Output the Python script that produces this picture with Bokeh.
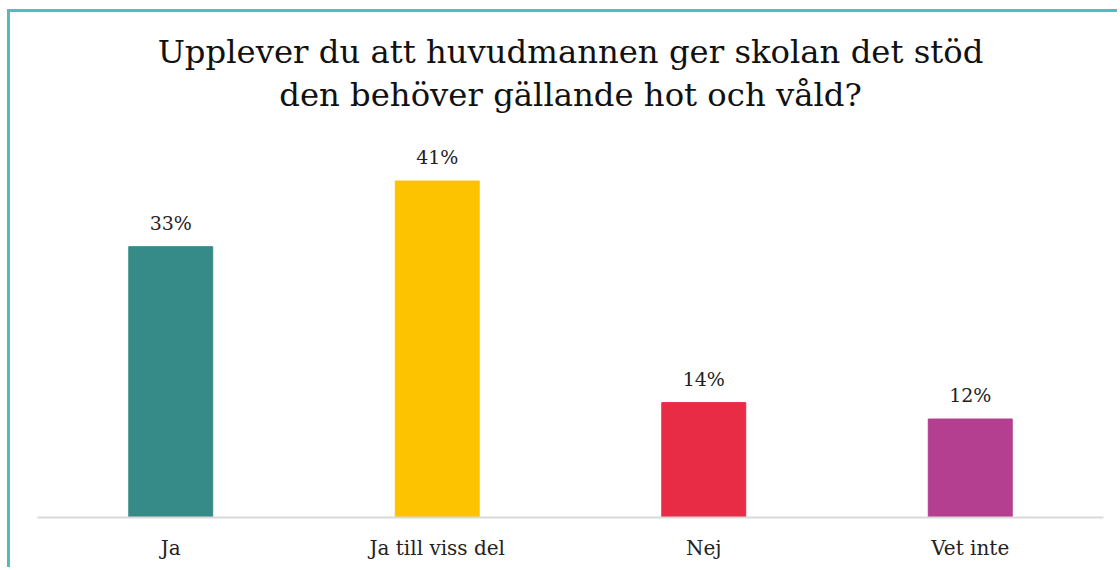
from bokeh.plotting import figure
from bokeh.models import ColumnDataSource, Range1d, Title
from bokeh.core.properties import value
from bokeh.embed import file_html
from bokeh.resources import INLINE

categories = ["Ja", "Ja till viss del", "Nej", "Vet inte"]
values = [33, 41, 14, 12]
labels = ["33%", "41%", "14%", "12%"]
colors = ["#368b89", "#fdc300", "#e92c46", "#b43e8f"]
title_lines = ["Upplever du att huvudmannen ger skolan det stöd",
               "den behöver gällande hot och våld?"]

FONT = "DejaVu Serif"

source = ColumnDataSource(dict(cat=categories, val=values, lab=labels, col=colors))

p = figure(
    x_range=categories,
    y_range=Range1d(0, 47.4),
    width=1110,
    height=558,
    output_backend="svg",
    toolbar_location=None,
    min_border_left=27,
    min_border_right=17,
    min_border_bottom=53,
    min_border_top=0,
    title=title_lines[0],
)
p.styles = {"margin-left": "7px", "margin-top": "9px",
            "border-left": "3px solid #4dbdbd", "border-top": "3px solid #4dbdbd"}
p.x_range.range_padding = 0

t1 = p.title
t1.align = "center"
t1.text_font = FONT
t1.text_font_size = "32.3px"
t1.text_font_style = "normal"
t1.text_color = "#111111"
t1.standoff = -24
t1.offset = 0
t1.padding = dict(left=0, right=0, top=30, bottom=0)

t2 = Title(text=title_lines[1], align="center", text_font=FONT,
           text_font_size="32.3px", text_font_style="normal",
           text_color="#111111", standoff=30)
p.add_layout(t2, "above")

p.vbar(x="cat", top="val", width=0.315, color="col", source=source)
p.text(x="cat", y="val", text="lab", source=source, text_align="center",
       text_baseline="bottom", y_offset=-13, text_font=value(FONT),
       text_font_size="19px", text_color="#222222")

p.yaxis.visible = False
p.xgrid.visible = False
p.ygrid.visible = False
p.outline_line_color = None
p.xaxis.axis_line_color = "#d9d9d9"
p.xaxis.axis_line_width = 2
p.xaxis.major_tick_line_color = None
p.xaxis.minor_tick_line_color = None
p.xaxis.major_label_text_font = FONT
p.xaxis.major_label_text_font_size = "20px"
p.xaxis.major_label_text_color = "#222222"
p.xaxis.major_label_standoff = 12

open("out.html", "w").write(file_html(p, INLINE))
